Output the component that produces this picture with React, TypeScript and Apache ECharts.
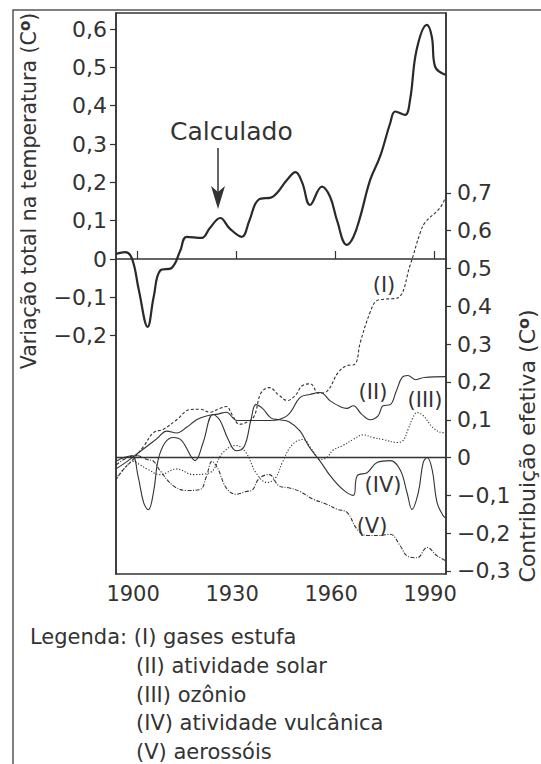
import React, { useEffect, useRef } from "react";
import * as echarts from "echarts";

// ---- Data ----
const xTickYears = [1900, 1930, 1960, 1990];
const leftTicks = [-0.2, -0.1, 0, 0.1, 0.2, 0.3, 0.4, 0.5, 0.6];
const rightTicks = [-0.3, -0.2, -0.1, 0, 0.1, 0.2, 0.3, 0.4, 0.5, 0.6, 0.7];

// Calculado (left axis)
const calcYears = [1893.6, 1896.4, 1898.5, 1900.5, 1903.2, 1905, 1907, 1910.5, 1913, 1915, 1919.6, 1922, 1925.2, 1928, 1931.7, 1934, 1936.7, 1941.2, 1945.4, 1948, 1950, 1952.4, 1956, 1958.5, 1960.6, 1963.5, 1965.5, 1967.6, 1970.6, 1973.6, 1976.7, 1978.2, 1981.2, 1982.7, 1984.7, 1987.8, 1989.3, 1990.3, 1993.6];
const calcValues = [0.013, 0.018, 0.0, -0.08, -0.177, -0.1, -0.03, -0.023, 0.02, 0.058, 0.055, 0.08, 0.107, 0.08, 0.058, 0.1, 0.154, 0.163, 0.206, 0.227, 0.2, 0.141, 0.189, 0.162, 0.1, 0.037, 0.057, 0.11, 0.206, 0.267, 0.355, 0.385, 0.376, 0.415, 0.546, 0.611, 0.58, 0.502, 0.48];

// (I) gases estufa
const gasYears = [1893.6, 1896, 1898.8, 1902, 1905, 1908, 1912, 1916, 1919, 1922, 1925, 1927, 1929, 1931, 1933.5, 1935.5, 1937.5, 1940, 1943, 1945.5, 1948, 1950, 1952.5, 1955, 1957.5, 1960.9, 1963.5, 1966, 1967.6, 1970.6, 1972.6, 1975.2, 1979.1, 1982.7, 1985.8, 1987.3, 1991.8, 1993.6];
const gasValues = [-0.058, -0.03, -0.005, 0.03, 0.066, 0.075, 0.1, 0.127, 0.128, 0.12, 0.13, 0.135, 0.11, 0.088, 0.095, 0.11, 0.17, 0.185, 0.165, 0.151, 0.165, 0.19, 0.195, 0.17, 0.175, 0.225, 0.243, 0.247, 0.304, 0.384, 0.415, 0.419, 0.423, 0.508, 0.595, 0.622, 0.661, 0.692];

// (II) atividade solar
const solarYears = [1893.6, 1897, 1900, 1903, 1906, 1909, 1912, 1915, 1918, 1921, 1924.5, 1927, 1930.3, 1935.2, 1940.3, 1945.5, 1949.4, 1952.4, 1955.5, 1958.5, 1961.5, 1963.5, 1965.5, 1968, 1970.6, 1973, 1974.5, 1976.7, 1978.5, 1980.3, 1982, 1984.5, 1987, 1993.6];
const solarValues = [-0.03, -0.01, 0.01, 0.03, 0.05, 0.07, 0.065, 0.08, 0.1, 0.11, 0.115, 0.12, 0.098, 0.098, 0.098, 0.111, 0.159, 0.167, 0.172, 0.15, 0.135, 0.13, 0.137, 0.115, 0.1, 0.11, 0.137, 0.14, 0.175, 0.212, 0.217, 0.206, 0.212, 0.214];

// (III) ozônio
const ozoneYears = [1893.6, 1896, 1898.8, 1901, 1903, 1907, 1912, 1917, 1922, 1926, 1930, 1933, 1936, 1939.4, 1942, 1944, 1947, 1950.3, 1953, 1955.5, 1957.5, 1959.4, 1962.4, 1965.5, 1968.5, 1971.5, 1974.5, 1978.8, 1980.6, 1982.1, 1983.6, 1984.8, 1986.7, 1989.7, 1992.7, 1993.6];
const ozoneValues = [-0.055, -0.03, -0.01, -0.02, -0.03, -0.045, -0.03, -0.045, -0.04, 0.013, 0.032, 0.013, -0.04, -0.066, -0.053, -0.013, 0.034, 0.048, 0.021, -0.005, 0.0, 0.02, 0.032, 0.048, 0.06, 0.053, 0.048, 0.04, 0.045, 0.074, 0.106, 0.119, 0.111, 0.079, 0.066, 0.066];

// (IV) atividade vulcânica
const volcYears = [1893.6, 1896, 1898.5, 1900.3, 1902, 1903.4, 1905, 1906.4, 1908.5, 1911, 1913.5, 1917.6, 1920, 1923, 1925, 1927.5, 1930, 1932.5, 1934.5, 1936, 1938, 1940.5, 1943, 1946, 1949.4, 1952, 1955.5, 1958.5, 1962.4, 1965.5, 1966.7, 1969.7, 1972.7, 1976.7, 1979.7, 1981.8, 1983.3, 1985.2, 1986.7, 1987.9, 1989.4, 1990.9, 1992.7, 1993.6];
const volcValues = [-0.01, 0.0, 0.005, -0.05, -0.12, -0.138, -0.09, -0.005, 0.04, 0.053, 0.045, -0.008, 0.04, 0.114, 0.1, 0.05, 0.018, 0.03, 0.1, 0.14, 0.13, 0.105, 0.1, 0.095, 0.07, 0.03, -0.01, -0.048, -0.085, -0.1, -0.048, -0.04, -0.013, -0.008, -0.032, -0.093, -0.137, -0.093, -0.013, 0.0, -0.032, -0.119, -0.153, -0.16];

// (V) aerossóis
const aeroYears = [1893.6, 1897, 1900, 1903, 1905, 1907, 1911, 1915, 1919, 1921, 1922.7, 1924.5, 1927, 1930, 1933, 1935, 1937, 1940, 1943, 1946, 1949.4, 1953.3, 1957.6, 1960.6, 1963.6, 1966.7, 1969.7, 1973.6, 1976.7, 1979.7, 1981.8, 1984.8, 1987.9, 1990.9, 1993.6];
const aeroValues = [-0.02, 0.0, 0.005, -0.005, -0.01, -0.035, -0.075, -0.087, -0.085, -0.05, -0.01, -0.03, -0.08, -0.097, -0.09, -0.085, -0.055, -0.045, -0.075, -0.08, -0.09, -0.11, -0.124, -0.137, -0.145, -0.19, -0.206, -0.206, -0.203, -0.233, -0.26, -0.265, -0.238, -0.26, -0.273];

const legendLines = [
  "Legenda: (I) gases estufa",
  "(II) atividade solar",
  "(III) ozônio",
  "(IV) atividade vulcânica",
  "(V) aerossóis",
];

const FONT = "DejaVu Sans";
const INK = "#333333";

const zip = (xs: number[], ys: number[]) => xs.map((x, i) => [x, ys[i]]);
const fmt = (v: number) => {
  const r = Math.round(v * 10) / 10;
  if (Math.abs(r) < 1e-9) return "0";
  return (r < 0 ? "\u2212" : "") + Math.abs(r).toFixed(1).replace(".", ",");
};

export default function App() {
  const ref = useRef<HTMLDivElement>(null);
  useEffect(() => {
    if (!ref.current) return;
    const chart = echarts.init(ref.current, undefined, { renderer: "svg" });
    const thin = (name: string, xs: number[], ys: number[], type: any, extra: any = {}) => ({
      name,
      type: "line",
      yAxisIndex: 1,
      data: zip(xs, ys),
      smooth: 0.4,
      symbol: "none",
      lineStyle: { color: INK, width: 1.1, type },
      z: 3,
      ...extra,
    });
    const option: any = {
      animation: false,
      backgroundColor: "#ffffff",
      grid: {
        left: 116,
        right: 95,
        top: 13,
        bottom: 190,
        show: true,
        borderColor: INK,
        borderWidth: 1.5,
        backgroundColor: "transparent",
      },
      xAxis: {
        type: "value",
        min: 1893.6,
        max: 1993.6,
        axisLine: { show: true, lineStyle: { color: INK, width: 1.5 } },
        axisTick: { show: true, inside: true, length: 8, customValues: xTickYears, lineStyle: { color: INK, width: 1.2 } },
        axisLabel: {
          customValues: xTickYears,
          margin: 9,
          fontFamily: FONT,
          fontSize: 21,
          color: INK,
          padding: [0, 8, 0, 0],
          formatter: (v: number) => String(Math.round(v)),
        },
        splitLine: { show: false },
      },
      yAxis: [
        {
          type: "value",
          position: "left",
          min: -0.822,
          max: 0.642,
          axisLine: { show: true, lineStyle: { color: INK, width: 1.5 } },
          axisTick: { show: true, length: 6, customValues: leftTicks, lineStyle: { color: INK, width: 1.2 } },
          axisLabel: { customValues: leftTicks, margin: 9, fontFamily: FONT, fontSize: 22, color: INK, formatter: fmt },
          splitLine: { show: false },
        },
        {
          type: "value",
          position: "right",
          min: -0.308,
          max: 1.176,
          axisLine: { show: true, lineStyle: { color: INK, width: 1.5 } },
          axisTick: { show: true, length: 5, customValues: rightTicks, lineStyle: { color: INK, width: 1.2 } },
          axisLabel: { customValues: rightTicks, margin: 11, fontFamily: FONT, fontSize: 22, color: INK, formatter: fmt },
          splitLine: { show: false },
        },
      ],
      series: [
        {
          name: "Calculado",
          type: "line",
          yAxisIndex: 0,
          data: zip(calcYears, calcValues),
          smooth: 0.4,
          symbol: "none",
          lineStyle: { color: "#2a2a2a", width: 2.2 },
          z: 4,
        },
        thin("(I) gases estufa", gasYears, gasValues, [3, 2], {
          markLine: {
            silent: true,
            symbol: "none",
            label: { show: false },
            lineStyle: { color: INK, width: 1.3, type: "solid" },
            data: [{ yAxis: 0 }],
          },
        }),
        thin("(II) atividade solar", solarYears, solarValues, "solid"),
        thin("(III) ozônio", ozoneYears, ozoneValues, [1.2, 1.8]),
        thin("(IV) atividade vulcânica", volcYears, volcValues, "solid"),
        thin("(V) aerossóis", aeroYears, aeroValues, [4, 1.5, 1, 1.5]),
      ],
      graphic: [
        {
          type: "rect",
          shape: { x: 13, y: 10, width: 700, height: 800 },
          style: { fill: "none", stroke: "#555", lineWidth: 1.5 },
          silent: true,
        },
        {
          type: "text",
          x: 29,
          y: 191,
          rotation: Math.PI / 2,
          style: {
            text: "{a|Variação total na temperatura (C}{b|o}{a|)}",
            align: "center",
            verticalAlign: "middle",
            rich: {
              a: { fontFamily: FONT, fontSize: 20.5, fill: INK, lineHeight: 24 },
              b: { fontFamily: FONT, fontSize: 15, fontWeight: "bold", fill: INK, verticalAlign: "top", lineHeight: 24 },
            },
          },
        },
        {
          type: "text",
          x: 527,
          y: 446,
          rotation: Math.PI / 2,
          style: {
            text: "{a|Contribuição efetiva (C}{b|o}{a|)}",
            align: "center",
            verticalAlign: "middle",
            rich: {
              a: { fontFamily: FONT, fontSize: 22, fill: INK, lineHeight: 24 },
              b: { fontFamily: FONT, fontSize: 16, fontWeight: "bold", fill: INK, verticalAlign: "top", lineHeight: 24 },
            },
          },
        },
        {
          type: "text",
          x: 170,
          y: 131,
          style: { text: "Calculado", fontFamily: FONT, fontSize: 25, fill: INK, align: "left", verticalAlign: "middle" },
        },
        {
          type: "line",
          shape: { x1: 218, y1: 148, x2: 218, y2: 198 },
          style: { stroke: INK, lineWidth: 1.5 },
        },
        {
          type: "polygon",
          shape: { points: [[211, 186], [218, 192], [225, 186], [218, 209]] },
          style: { fill: INK },
        },
        { type: "text", x: 384, y: 285, style: { text: "(I)", fontFamily: FONT, fontSize: 21, fill: INK, align: "center", verticalAlign: "middle" } },
        { type: "text", x: 373, y: 392, style: { text: "(II)", fontFamily: FONT, fontSize: 21, fill: INK, align: "center", verticalAlign: "middle" } },
        { type: "text", x: 425, y: 400, style: { text: "(III)", fontFamily: FONT, fontSize: 21, fill: INK, align: "center", verticalAlign: "middle" } },
        { type: "text", x: 383, y: 485, style: { text: "(IV)", fontFamily: FONT, fontSize: 21, fill: INK, align: "center", verticalAlign: "middle" } },
        { type: "text", x: 372, y: 526, style: { text: "(V)", fontFamily: FONT, fontSize: 21, fill: INK, align: "center", verticalAlign: "middle" } },
        ...legendLines.map((t, i) => ({
          type: "text",
          x: i === 0 ? 30 : 136,
          y: 637 + i * 28.8,
          style: { text: t, fontFamily: FONT, fontSize: 21, fill: INK, align: "left", verticalAlign: "middle" },
        })),
      ],
    };
    chart.setOption(option);
    return () => chart.dispose();
  }, []);
  return (
    <div
      ref={ref}
      style={{ position: "absolute", left: 0, top: 0, width: 541, height: 764, background: "#fff" }}
    />
  );
}
